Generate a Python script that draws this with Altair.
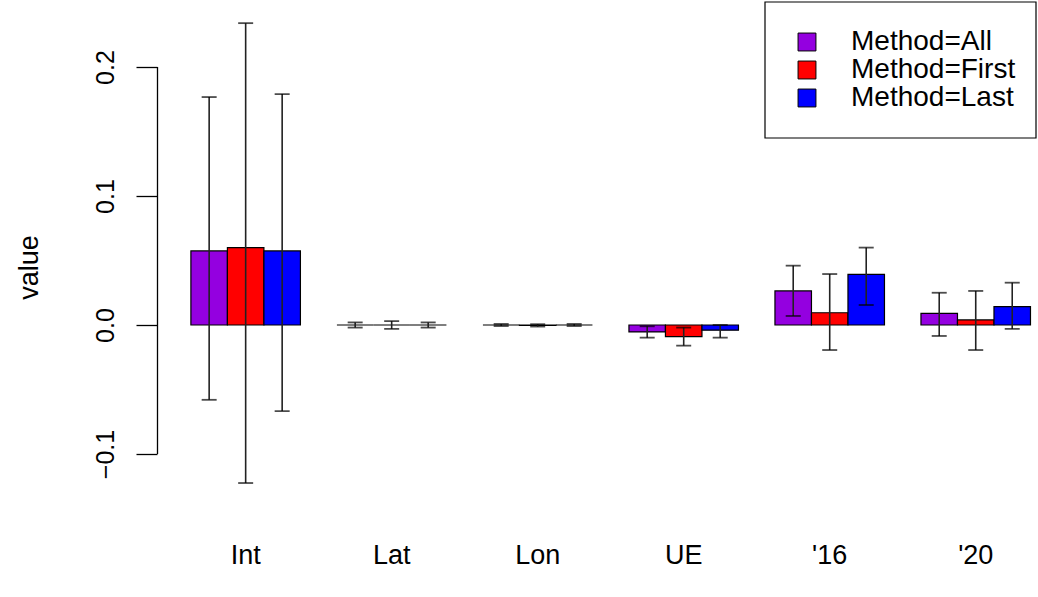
import altair as alt
import pandas as pd

groups = ["Int", "Lat", "Lon", "UE", "'16", "'20"]
methods = ["Method=All", "Method=First", "Method=Last"]
colors = ["#9400E0", "#FF0000", "#0000FF"]

val_all = [0.0574, 0.0, 0.0, -0.0054, 0.0264, 0.0090]
val_first = [0.0600, 0.0, -0.0003, -0.0090, 0.0095, 0.0039]
val_last = [0.0574, 0.0, 0.0, -0.0040, 0.0393, 0.0142]

lo_all = [-0.0580, -0.0020, -0.0008, -0.0098, 0.0070, -0.0085]
lo_first = [-0.1225, -0.0030, -0.0012, -0.0160, -0.0194, -0.0194]
lo_last = [-0.0667, -0.0020, -0.0008, -0.0098, 0.0155, -0.0030]

hi_all = [0.1767, 0.0020, 0.0008, -0.0010, 0.0460, 0.0250]
hi_first = [0.2340, 0.0030, 0.0006, -0.0020, 0.0395, 0.0264]
hi_last = [0.1790, 0.0020, 0.0008, 0.0000, 0.0600, 0.0328]

y_ticks = [-0.1, 0.0, 0.1, 0.2]

rows = []
for m, vals, los, his in [
    (methods[0], val_all, lo_all, hi_all),
    (methods[1], val_first, lo_first, hi_first),
    (methods[2], val_last, lo_last, hi_last),
]:
    for g, v, lo, hi in zip(groups, vals, los, his):
        rows.append({"group": g, "method": m, "value": v, "lo": lo, "hi": hi})
df = pd.DataFrame(rows)

FONT = "Liberation Sans"
W, H = 879, 496
ymax = (325 - 5) / 1290
ymin = (325 - 501) / 1290

xscale = alt.Scale(domain=groups, paddingInner=0.25, paddingOuter=0.135, align=0.86)
yscale = alt.Scale(domain=[ymin, ymax], nice=False, zero=False)
xoff_scale = alt.Scale(domain=methods, paddingInner=0, paddingOuter=0)
color_scale = alt.Scale(domain=methods, range=colors)

base = alt.Chart(df)

bars = base.mark_bar(stroke="black", strokeWidth=1.2).encode(
    x=alt.X("group:N", scale=xscale, sort=groups,
            axis=alt.Axis(title=None, domain=False, ticks=False, tickSize=0,
                          labelAngle=0, labelFontSize=27, labelFont=FONT,
                          labelColor="black", labelPadding=41)),
    xOffset=alt.XOffset("method:N", scale=xoff_scale, sort=methods),
    y=alt.Y("value:Q", scale=yscale,
            axis=alt.Axis(title="value", values=y_ticks, format=".1f", domain=False,
                          grid=False, tickSize=21, tickColor="black", tickWidth=1.3,
                          labelAngle=270, labelAlign="center", labelBaseline="alphabetic",
                          labelPadding=23, labelFontSize=25, labelFont=FONT,
                          labelColor="black", titleFontSize=27, titleFont=FONT,
                          titleFontWeight="normal", titleColor="black", titleAngle=270,
                          titleAlign="center", titleBaseline="alphabetic",
                          titleX=-120, titleY=262)),
    y2=alt.datum(0),
    color=alt.Color("method:N", scale=color_scale, sort=methods,
                    legend=alt.Legend(title=None, orient="none", legendX=636, legendY=23,
                                      symbolType="square", symbolSize=320,
                                      symbolStrokeColor="black", symbolStrokeWidth=1,
                                      labelFontSize=28, labelFont=FONT, labelColor="black",
                                      labelLimit=500,
                                      labelOffset=30, rowPadding=0, padding=0)),
)

err = base.mark_rule(color="#222222", strokeWidth=1.6).encode(
    x=alt.X("group:N", scale=xscale, sort=groups),
    xOffset=alt.XOffset("method:N", scale=xoff_scale, sort=methods),
    y="lo:Q",
    y2="hi:Q",
)

cap_lo = base.mark_tick(color="black", thickness=1.8, size=15, orient="horizontal").encode(
    x=alt.X("group:N", scale=xscale, sort=groups),
    xOffset=alt.XOffset("method:N", scale=xoff_scale, sort=methods),
    y="lo:Q",
)
cap_hi = base.mark_tick(color="black", thickness=1.8, size=15, orient="horizontal").encode(
    x=alt.X("group:N", scale=xscale, sort=groups),
    xOffset=alt.XOffset("method:N", scale=xoff_scale, sort=methods),
    y="hi:Q",
)

axis_df = pd.DataFrame({"lo": [min(y_ticks)], "hi": [max(y_ticks)]})
yaxis_line = alt.Chart(axis_df).mark_rule(color="black", strokeWidth=1.3).encode(
    x=alt.value(0.5),
    y=alt.Y("lo:Q", scale=yscale),
    y2="hi:Q",
)

box = alt.Chart(pd.DataFrame({"a": [0]})).mark_rect(
    fill="white", fillOpacity=0, stroke="black", strokeWidth=1.2
).encode(
    x=alt.value(608), x2=alt.value(879), y=alt.value(-3), y2=alt.value(133)
)

chart = alt.layer(bars, err, cap_lo, cap_hi, yaxis_line, box).properties(
    width=W, height=H,
    background="white",
    autosize=alt.AutoSizeParams(type="none"),
    padding={"left": 157, "top": 5, "right": 2, "bottom": 96},
).configure_view(strokeWidth=0, stroke="transparent")

chart.save("out.html", embed_options={"renderer": "svg", "actions": False})
